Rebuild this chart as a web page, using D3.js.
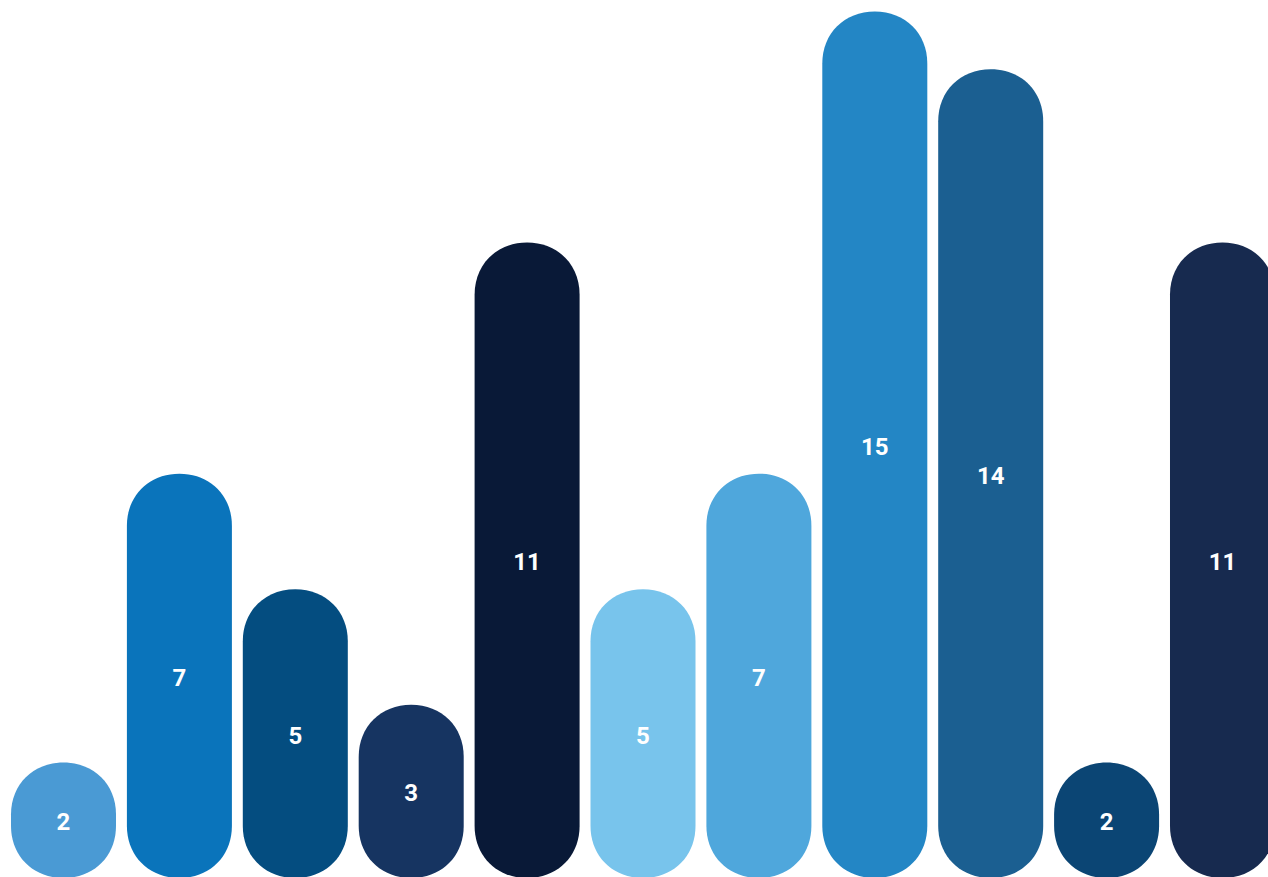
<!DOCTYPE html>
<html>
<head>
<meta charset="utf-8">
<script src="https://cdn.jsdelivr.net/npm/d3@7"></script>
<style>
  html, body { margin: 0; padding: 0; background: #fff; overflow: hidden; }
  .label { font-family: Roboto, "DejaVu Sans", sans-serif; font-weight: 700; fill: #fff; }
</style>
</head>
<body>
<div class="chart"></div>
<script>
var values = [2, 7, 5, 3, 11, 5, 7, 15, 14, 2, 11];
var colors = ["#4a9ad4", "#0a74bb", "#044d80", "#163461", "#091937",
              "#78c4ec", "#4fa7dc", "#2386c5", "#1b5f91", "#0b4574", "#172a4f"];

var width = 1268, height = 877;

var svg = d3.select('.chart')
    .append('svg')
    .attr("width", width)
    .attr("height", height);

var x = d3.scaleBand()
    .domain(d3.range(values.length))
    .range([11, 1275])
    .paddingInner(0.094)
    .paddingOuter(0);

var y = d3.scaleLinear()
    .domain([0, 15])
    .range([878, 11.5]);

// pill with rounded caps top and bottom
function pill(x0, y0, w, h) {
    var rx = w / 2, ry = Math.min(52, h / 2), k = 0.58;
    var x1 = x0 + w, y1 = y0 + h;
    return "M" + x0 + "," + (y0 + ry)
        + "C" + x0 + "," + (y0 + ry * (1 - k)) + " " + (x0 + rx * (1 - k)) + "," + y0 + " " + (x0 + rx) + "," + y0
        + "C" + (x1 - rx * (1 - k)) + "," + y0 + " " + x1 + "," + (y0 + ry * (1 - k)) + " " + x1 + "," + (y0 + ry)
        + "L" + x1 + "," + (y1 - ry)
        + "C" + x1 + "," + (y1 - ry * (1 - k)) + " " + (x1 - rx * (1 - k)) + "," + y1 + " " + (x0 + rx) + "," + y1
        + "C" + (x0 + rx * (1 - k)) + "," + y1 + " " + x0 + "," + (y1 - ry * (1 - k)) + " " + x0 + "," + (y1 - ry)
        + "Z";
}

svg.selectAll("path.bar")
    .data(values)
    .enter().append("path")
    .attr("class", "bar")
    .attr("fill", function(d, i) { return colors[i]; })
    .attr("d", function(d, i) {
        return pill(x(i), y(d), x.bandwidth(), y(0) - y(d));
    });

svg.selectAll("text.label")
    .data(values)
    .enter().append("text")
    .attr("class", "label")
    .attr("x", function(d, i) { return x(i) + x.bandwidth() / 2; })
    .attr("y", function(d) { return (y(d) + y(0)) / 2 + 2; })
    .attr("text-anchor", "middle")
    .attr("dominant-baseline", "central")
    .attr("font-size", 24)
    .text(function(d) { return d; });
</script>
</body>
</html>
